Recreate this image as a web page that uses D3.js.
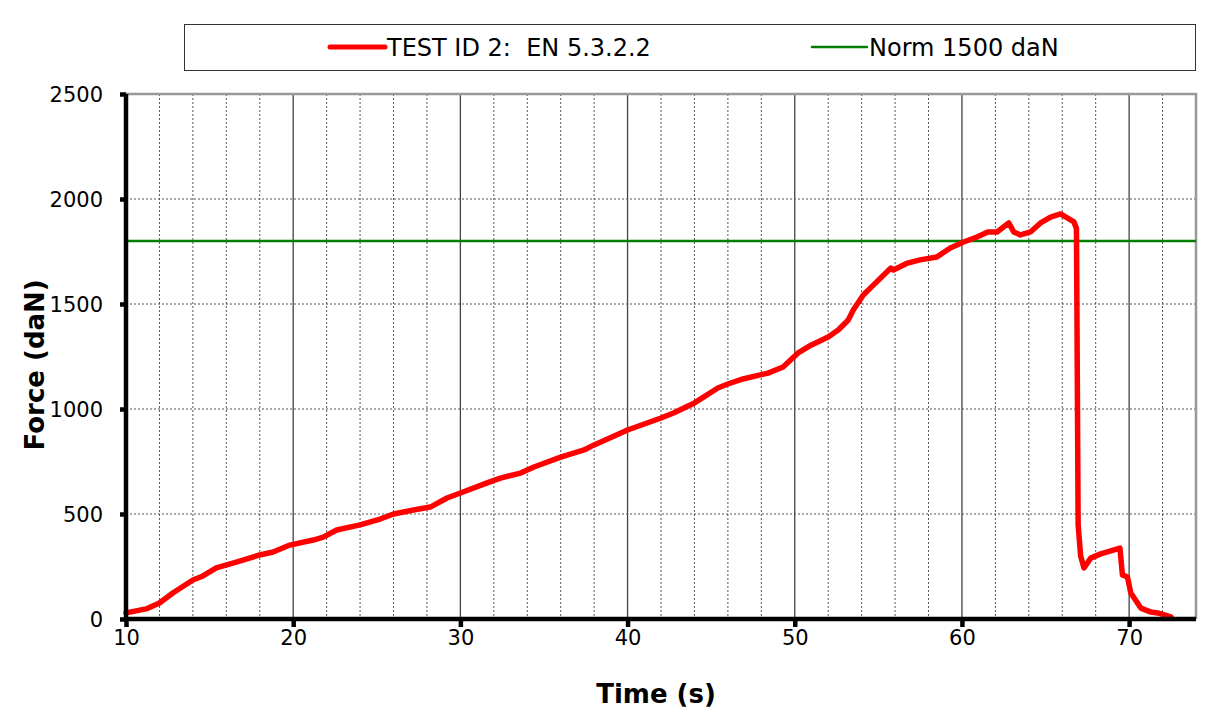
<!DOCTYPE html>
<html>
<head>
<meta charset="utf-8">
<script src="https://cdn.jsdelivr.net/npm/d3@7"></script>
<style>
  body { margin: 0; background: #fff; }
  .tick text { font-family: "DejaVu Sans", Verdana, sans-serif; font-size: 21px; fill: #000; }
  .axisTitle { font-family: "DejaVu Sans", Verdana, sans-serif; font-size: 26px; font-weight: bold; }
  .legendText { font-family: "DejaVu Sans", Verdana, sans-serif; font-size: 24px; white-space: pre; }
</style>
</head>
<body>
<div id="chart"></div>
<script>
// Data
// ================================
const timeS = [10, 11.2, 12, 12.8, 14, 14.6, 15.4, 16.6, 18, 18.8, 19.8, 21.2, 21.8, 22.6, 24, 25.2, 26, 27.2, 28.2, 29.2,
  30, 31.6, 32.4, 33.6, 34.4, 36, 37.4, 38, 40, 42, 42.75, 44, 45.4, 46, 46.9, 48.4, 49.3, 50.2, 51, 52, 52.6, 53.2,
  53.5, 54.1, 54.7, 55.75, 55.9, 56.75, 57.5, 58.5, 59.3, 60.1, 60.9, 61.55, 62.1, 62.8, 63.1, 63.5, 64.1, 64.7, 65.3,
  65.9, 66.7, 66.85, 66.95, 67.1, 67.3, 67.7, 68.3, 69.45, 69.6, 69.9, 70.1, 70.7, 71.3, 71.7, 72.5];
const forceDaN = [29, 48, 76, 124, 186, 205, 243, 271, 305, 319, 352, 376, 390, 424, 448, 476, 500, 519, 533, 576,
  600, 648, 671, 695, 724, 771, 805, 829, 900, 957, 981, 1029, 1100, 1119, 1143, 1171, 1200, 1267, 1305, 1343, 1376, 1424,
  1471, 1543, 1590, 1671, 1662, 1695, 1710, 1724, 1767, 1795, 1819, 1843, 1843, 1886, 1843, 1829, 1843, 1886, 1914,
  1929, 1891, 1860, 450, 300, 243, 290, 310, 338, 210, 200, 124, 52, 33, 29, 10];
const normLevel = 1800;
const xTicks = [10, 20, 30, 40, 50, 60, 70];
const yTicks = [0, 500, 1000, 1500, 2000, 2500];
const seriesNames = ["TEST ID 2:  EN 5.3.2.2", "Norm 1500 daN"];

// Step 1: chart frame
// ================================
const svgWidth = 1208;
const svgHeight = 720;
const margin = { top: 94, right: 12, bottom: 101, left: 126 };
const width = svgWidth - margin.left - margin.right;
const height = svgHeight - margin.top - margin.bottom;

const svg = d3.select("#chart")
  .append("svg")
  .attr("width", svgWidth)
  .attr("height", svgHeight);

const chartGroup = svg.append("g")
  .attr("transform", `translate(${margin.left}, ${margin.top})`);

const xScale = d3.scaleLinear().domain([10, 74]).range([0, width]);
const yScale = d3.scaleLinear().domain([0, 2500]).range([height, 0]);

// Step 2: gridlines
// ================================
const xGrid = d3.range(12, 74, 2);
chartGroup.selectAll("line.vgrid")
  .data(xGrid)
  .enter()
  .append("line")
  .attr("class", "vgrid")
  .attr("x1", d => xScale(d))
  .attr("x2", d => xScale(d))
  .attr("y1", 0)
  .attr("y2", height)
  .attr("stroke", d => d % 10 === 0 ? "#444" : "#555")
  .attr("stroke-width", d => d % 10 === 0 ? 1.3 : 1)
  .attr("stroke-dasharray", d => d % 10 === 0 ? null : "2,2");

chartGroup.selectAll("line.hgrid")
  .data(yTicks.filter(d => d > 0 && d < 2500))
  .enter()
  .append("line")
  .attr("class", "hgrid")
  .attr("x1", 0)
  .attr("x2", width)
  .attr("y1", d => yScale(d))
  .attr("y2", d => yScale(d))
  .attr("stroke", "#555")
  .attr("stroke-dasharray", "2,2");

// top and right border
chartGroup.append("path")
  .attr("d", `M0,${yScale(2500)}H${xScale(74)}V${height}`)
  .attr("fill", "none")
  .attr("stroke", "#999")
  .attr("stroke-width", 2.5);

// Step 3: norm line and curve
// ================================
chartGroup.append("line")
  .attr("x1", 0)
  .attr("x2", width)
  .attr("y1", yScale(normLevel))
  .attr("y2", yScale(normLevel))
  .attr("stroke", "#008000")
  .attr("stroke-width", 2.5);

const line = d3.line()
  .x((d, i) => xScale(timeS[i]))
  .y(d => yScale(d));

chartGroup.append("path")
  .datum(forceDaN)
  .attr("d", line)
  .attr("fill", "none")
  .attr("stroke", "#ff0000")
  .attr("stroke-width", 5.5)
  .attr("stroke-linejoin", "round")
  .attr("stroke-linecap", "round");

// Step 4: axes
// ================================
const bottomAxis = d3.axisBottom(xScale).tickValues(xTicks).tickSize(8).tickPadding(3).tickFormat(d3.format("d"));
const xAxisG = chartGroup.append("g")
  .attr("transform", `translate(0, ${height})`)
  .call(bottomAxis);

const leftAxis = d3.axisLeft(yScale).tickValues(yTicks).tickSize(6).tickPadding(17).tickFormat(d3.format("d"));
const yAxisG = chartGroup.append("g").call(leftAxis);

[xAxisG, yAxisG].forEach(g => {
  g.select(".domain").attr("stroke", "#000").attr("stroke-width", 4.5);
  g.selectAll(".tick line").attr("stroke", "#000").attr("stroke-width", 4.5);
});
xAxisG.select(".domain").attr("d", `M0,0H${width}`);
yAxisG.select(".domain").attr("d", `M0,0V${height}`);
yAxisG.selectAll(".tick text").attr("dy", "0.36em");

chartGroup.append("text")
  .attr("class", "axisTitle")
  .attr("x", xScale(41.7))
  .attr("y", height + 84)
  .attr("text-anchor", "middle")
  .text("Time (s)");

chartGroup.append("text")
  .attr("class", "axisTitle")
  .attr("transform", "rotate(-90)")
  .attr("x", -(yScale(1210)))
  .attr("y", -82)
  .attr("text-anchor", "middle")
  .text("Force (daN)");

// Step 5: legend
// ================================
const legend = svg.append("g");
legend.append("rect")
  .attr("x", 184.5)
  .attr("y", 24.5)
  .attr("width", 1011)
  .attr("height", 46)
  .attr("fill", "#fff")
  .attr("stroke", "#333")
  .attr("stroke-width", 1);

const legendItems = [
  { name: seriesNames[0], color: "#ff0000", w: 5, x: 330 },
  { name: seriesNames[1], color: "#008000", w: 2.5, x: 812 }
];
legendItems.forEach(item => {
  legend.append("line")
    .attr("x1", item.x)
    .attr("x2", item.x + 55)
    .attr("y1", 47)
    .attr("y2", 47)
    .attr("stroke", item.color)
    .attr("stroke-width", item.w)
    .attr("stroke-linecap", "round");
  legend.append("text")
    .attr("class", "legendText")
    .attr("x", item.x + 57)
    .attr("y", 56)
    .text(item.name);
});
</script>
</body>
</html>
